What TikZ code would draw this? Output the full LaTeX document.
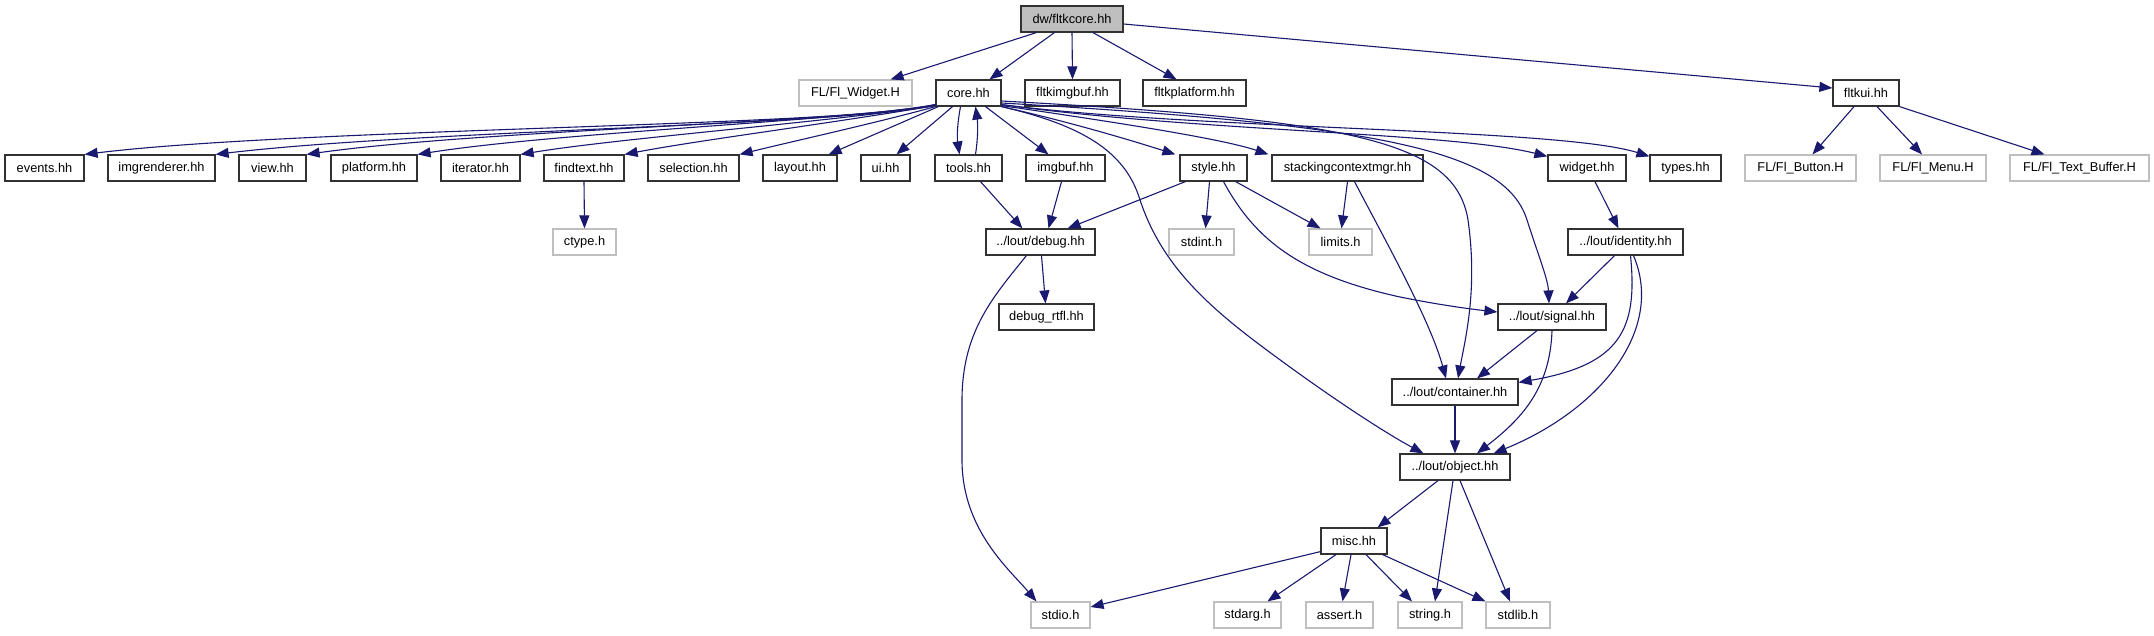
\documentclass[tikz,border=0pt]{standalone}
\usepackage{fontspec}
\setmainfont{Liberation Sans}
\usetikzlibrary{arrows.meta,calc}
\definecolor{edgec}{RGB}{25,25,112}
\definecolor{boxc}{RGB}{50,50,50}
\definecolor{extc}{RGB}{191,191,191}
\definecolor{rootc}{RGB}{191,191,191}
\begin{document}
\begin{tikzpicture}[x=1pt,y=-1pt,
  box/.style={draw=boxc, line width=1.2pt, minimum height=26pt, inner sep=0pt, fill=white, text=black, font=\fontsize{12.8}{15}\selectfont},
  ext/.style={box, draw=extc},
  root/.style={box, fill=rootc},
  edge/.style={draw=edgec, line width=1.1pt, -{Triangle[length=13pt,width=10pt]}}]
\useasboundingbox (0,0) rectangle (2154,635);
% row 0
\node[root, minimum width=102pt] (fltkcore) at (1072,19) {dw/fltkcore.hh};
% row 1
\node[ext, minimum width=113pt] (flwidget) at (855.5,93) {FL/Fl\_Widget.H};
\node[box, minimum width=65pt] (core) at (968.5,93) {core.hh};
\node[box, minimum width=95pt] (fltkimgbuf) at (1072.5,93) {fltkimgbuf.hh};
\node[box, minimum width=103pt] (fltkplatform) at (1194.5,93) {fltkplatform.hh};
\node[box, minimum width=66pt] (fltkui) at (1866,93) {fltkui.hh};
% row 2
\node[box, minimum width=79pt] (events) at (44.5,168) {events.hh};
\node[box, minimum width=107pt] (imgrenderer) at (161.5,168) {imgrenderer.hh};
\node[box, minimum width=67pt] (view) at (272.5,168) {view.hh};
\node[box, minimum width=86pt] (platform) at (374,168) {platform.hh};
\node[box, minimum width=79pt] (iterator) at (480.5,168) {iterator.hh};
\node[box, minimum width=80pt] (findtext) at (584,168) {findtext.hh};
\node[box, minimum width=91pt] (selection) at (693.5,168) {selection.hh};
\node[box, minimum width=74pt] (layout) at (800,168) {layout.hh};
\node[box, minimum width=49pt] (ui) at (885.5,168) {ui.hh};
\node[box, minimum width=67pt] (tools) at (968.5,168) {tools.hh};
\node[box, minimum width=79pt] (imgbuf) at (1065.5,168) {imgbuf.hh};
\node[box, minimum width=67pt] (style) at (1213.5,168) {style.hh};
\node[box, minimum width=151pt] (stacking) at (1347.5,168) {stackingcontextmgr.hh};
\node[box, minimum width=78pt] (widget) at (1587,168) {widget.hh};
\node[box, minimum width=71pt] (types) at (1685.5,168) {types.hh};
\node[ext, minimum width=111pt] (flbutton) at (1800.5,168) {FL/Fl\_Button.H};
\node[ext, minimum width=106pt] (flmenu) at (1933,168) {FL/Fl\_Menu.H};
\node[ext, minimum width=139pt] (fltextbuffer) at (2079.5,168) {FL/Fl\_Text\_Buffer.H};
% row 3
\node[ext, minimum width=63pt] (ctype) at (584.5,242) {ctype.h};
\node[box, minimum width=109pt] (debug) at (1040.5,242) {../lout/debug.hh};
\node[ext, minimum width=65pt] (stdint) at (1201.5,242) {stdint.h};
\node[ext, minimum width=63pt] (limits) at (1340.5,242) {limits.h};
\node[box, minimum width=115pt] (identity) at (1625.5,242) {../lout/identity.hh};
% row 4
\node[box, minimum width=95pt] (debugrtfl) at (1046.5,317) {debug\_rtfl.hh};
\node[box, minimum width=108pt] (signal) at (1552,317) {../lout/signal.hh};
% row 5
\node[box, minimum width=126pt] (container) at (1455,392) {../lout/container.hh};
% row 6
\node[box, minimum width=110pt] (object) at (1455,467) {../lout/object.hh};
% row 7
\node[box, minimum width=66pt] (misc) at (1354,541) {misc.hh};
% row 8
\node[ext, minimum width=59pt] (stdio) at (1060.5,615) {stdio.h};
\node[ext, minimum width=67pt] (stdarg) at (1247.5,615) {stdarg.h};
\node[ext, minimum width=67pt] (assert) at (1339.5,615) {assert.h};
\node[ext, minimum width=64pt] (string) at (1430,615) {string.h};
\node[ext, minimum width=64pt] (stdlib) at (1518,615) {stdlib.h};

% edges from fltkcore
\draw[edge] ($(fltkcore.south west)+(16,0)$) -- ($(flwidget.north east)+(-22,0)$);
\draw[edge] ($(fltkcore.south west)+(34,0)$) -- ($(core.north)+(21,0)$);
\draw[edge] (fltkcore.south) -- (fltkimgbuf.north);
\draw[edge] ($(fltkcore.south)+(21,0)$) -- ($(fltkplatform.north)+(-18,0)$);
\draw[edge] ($(fltkcore.east)+(0,5)$) -- ($(fltkui.west)+(0,-5)$);
% fltkui
\draw[edge] ($(fltkui.south)+(-12,0)$) -- ($(flbutton.north)+(12,0)$);
\draw[edge] ($(fltkui.south)+(11,0)$) -- ($(flmenu.north)+(-11,0)$);
\draw[edge] (fltkui.south east) -- ($(fltextbuffer.north)+(-35,0)$);
% core to the left
\draw[edge] ($(core.south west)+(0,-2)$) .. controls (860,126) and (300,128) .. (events.north east);
\draw[edge] ($(core.south west)+(0,-2)$) .. controls (860,125) and (420,130) .. (imgrenderer.north east);
\draw[edge] ($(core.south west)+(0,-2)$) .. controls (855,122) and (480,130) .. (view.north east);
\draw[edge] ($(core.south west)+(0,-2)$) .. controls (845,121) and (560,132) .. (platform.north east);
\draw[edge] ($(core.south west)+(0,-1)$) .. controls (830,122) and (620,138) .. (iterator.north east);
\draw[edge] ($(core.south west)+(0,-1)$) .. controls (820,125) and (700,140) .. (findtext.north east);
\draw[edge] (core.south west) .. controls (880,122) and (790,142) .. (selection.north east);
\draw[edge] ($(core.south west)+(3,0)$) -- ($(layout.north east)+(-9,0)$);
\draw[edge] ($(core.south)+(-16,0)$) -- ($(ui.north)+(11,0)$);
\draw[edge] ($(core.south)+(-8,0)$) .. controls (957,125) and (957,138) .. ($(tools.north)+(-9,0)$);
\draw[edge] ($(tools.north)+(7,0)$) .. controls (978,138) and (978,125) .. ($(core.south)+(7,0)$);
\draw[edge] ($(core.south)+(17,0)$) -- ($(imgbuf.north)+(-17,0)$);
% core to the right
\draw[edge] (core.south east) .. controls (1070,122) and (1130,140) .. ($(style.north west)+(-4,0)$);
\draw[edge] ($(core.south east)+(0,-1)$) .. controls (1100,120) and (1220,138) .. ($(stacking.north west)+(-3,0)$);
\draw[edge] ($(core.south east)+(0,-2)$) .. controls (1200,132) and (1450,132) .. ($(widget.north west)+(0,2)$);
\draw[edge] ($(core.south east)+(0,-2)$) .. controls (1200,130) and (1560,128) .. ($(types.north west)+(0,2)$);
\draw[edge] ($(core.east)+(0,8)$) .. controls (1350,120) and (1455,140) .. (1468,220) .. controls (1478,290) and (1465,340) .. ($(container.north)+(3,0)$);
\draw[edge] ($(core.east)+(0,10)$) .. controls (1380,125) and (1505,150) .. (1527,220) .. controls (1540,260) and (1548,280) .. ($(signal.north)+(-3,0)$);
\draw[edge] (core.south east) .. controls (1080,125) and (1125,150) .. (1140,200) .. controls (1160,260) and (1200,300) .. (1260,345) .. controls (1320,390) and (1380,430) .. ($(object.north west)+(24,0)$);
% style
\draw[edge] ($(style.south west)+(6,0)$) -- ($(debug.north east)+(-28,0)$);
\draw[edge] ($(style.south)+(-4,0)$) -- ($(stdint.north)+(4,0)$);
\draw[edge] ($(style.south east)+(-12,0)$) -- ($(limits.north)+(-20,0)$);
\draw[edge] ($(style.south)+(10,0)$) .. controls (1255,240) and (1300,275) .. (1400,297) .. controls (1440,305) and (1470,309) .. ($(signal.west)+(0,-5)$);
% stacking
\draw[edge] (stacking.south) -- ($(limits.north)+(1,0)$);
\draw[edge] ($(stacking.south)+(7,0)$) .. controls (1385,240) and (1430,320) .. ($(container.north)+(-9,0)$);
% tools, imgbuf
\draw[edge] ($(tools.south)+(12,0)$) -- ($(debug.north west)+(37,0)$);
\draw[edge] ($(imgbuf.south)+(-4,0)$) -- ($(debug.north)+(8,0)$);
% debug
\draw[edge] ($(debug.south)+(1,0)$) -- ($(debugrtfl.north)+(-1,0)$);
\draw[edge] ($(debug.south west)+(41,0)$) .. controls (995,295) and (962,330) .. (962,400) -- (962,460) .. controls (962,530) and (1010,570) .. ($(stdio.north west)+(6,0)$);
% findtext
\draw[edge] (findtext.south) -- (ctype.north);
% widget, identity
\draw[edge] ($(widget.south)+(8,0)$) -- ($(identity.north)+(-7,0)$);
\draw[edge] ($(identity.south)+(-11,0)$) -- ($(signal.north)+(14,0)$);
\draw[edge] ($(identity.south)+(5,0)$) .. controls (1638,330) and (1620,365) .. ($(container.north east)+(0,4)$);
\draw[edge] ($(identity.south)+(8,0)$) .. controls (1665,330) and (1600,410) .. ($(object.north east)+(-17,0)$);
% signal, container
\draw[edge] ($(signal.south)+(-15,0)$) -- ($(container.north)+(22,0)$);
\draw[edge] (signal.south) .. controls (1550,390) and (1520,420) .. ($(object.north)+(22,0)$);
\draw[edge] (container.south) -- (object.north);
% object
\draw[edge] ($(object.south)+(-17,0)$) -- ($(misc.north east)+(-10,0)$);
\draw[edge] ($(object.south)+(-2,0)$) -- ($(string.north)+(5,0)$);
\draw[edge] ($(object.south)+(5,0)$) -- ($(stdlib.north)+(-8,0)$);
% misc
\draw[edge] ($(misc.south west)+(0,-3)$) -- ($(stdio.east)+(0,-8)$);
\draw[edge] ($(misc.south)+(-18,0)$) -- ($(stdarg.north)+(20,0)$);
\draw[edge] ($(misc.south)+(-3,0)$) -- ($(assert.north)+(3,0)$);
\draw[edge] ($(misc.south)+(12,0)$) -- ($(string.north)+(-18,0)$);
\draw[edge] ($(misc.south east)+(-5,0)$) -- (stdlib.north west);
\end{tikzpicture}
\end{document}
